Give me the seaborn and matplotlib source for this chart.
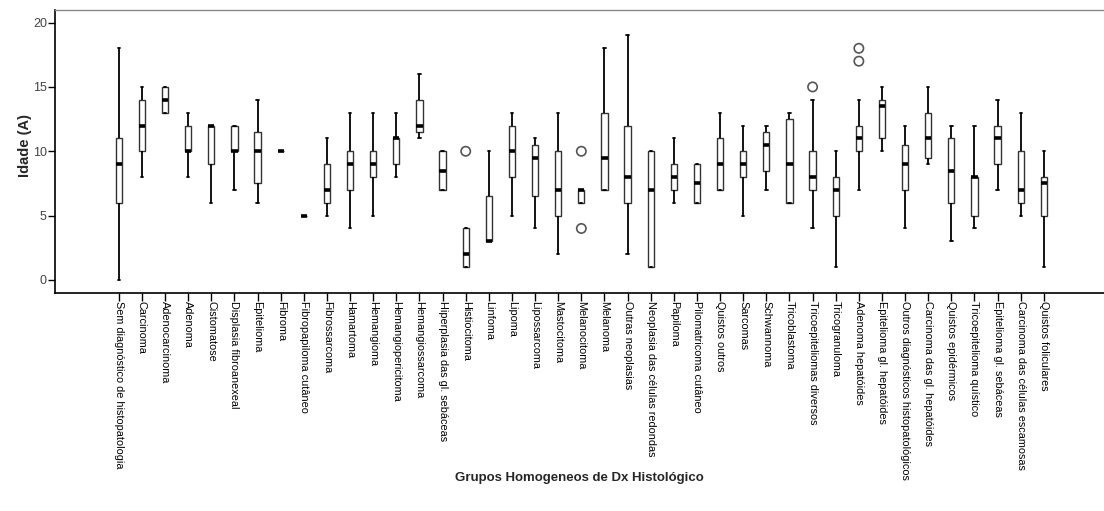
import matplotlib
matplotlib.use("Agg")
import matplotlib.pyplot as plt
import numpy as np
import pandas as pd
import seaborn as sns

# ---------------- data ----------------
grupos = [
    "Sem diagnóstico de histopatologia", "Carcinoma", "Adenocarcinoma", "Adenoma",
    "Cistomatose", "Displasia fibroanexeal", "Epitelioma", "Fibroma",
    "Fibropapiloma cutâneo", "Fibrossarcoma", "Hamartoma", "Hemangioma",
    "Hemangiopericitoma", "Hemangiossarcoma", "Hiperplasia das gl. sebáceas",
    "Histiocitoma", "Linfoma", "Lipoma", "Lipossarcoma", "Mastocitoma",
    "Melanocitoma", "Melanoma", "Outras neoplasias", "Neoplasia das células redondas",
    "Papiloma", "Pilomatricoma cutâneo", "Quistos outros", "Sarcomas", "Schwannoma",
    "Tricoblastoma", "Tricoepiteliomas diversos", "Tricogranuloma",
    "Adenoma hepatóides", "Epitelioma gl. hepatóides",
    "Outros diagnósticos histopatológicos", "Carcinoma das gl. hepatóides",
    "Quistos epidérmicos", "Tricoepitelioma quístico", "Epitelioma gl. sebáceas",
    "Carcinoma das células escamosas", "Quistos foliculares",
]

# whisker low, Q1, median, Q3, whisker high
w_lo = [0, 8, 13, 8, 6, 7, 6, 10, 5, 5, 4, 5, 8, 11, 7, 1, 3, 5, 4, 2, 6,
        7, 2, 1, 6, 6, 7, 5, 7, 6, 4, 1, 7, 10, 4, 9, 3, 4, 7, 5, 1]
q1 = [6, 10, 13, 10, 9, 10, 7.5, 10, 5, 6, 7, 8, 9, 11.5, 7, 1, 3, 8, 6.5, 5, 6,
      7, 6, 1, 7, 6, 7, 8, 8.5, 6, 7, 5, 10, 11, 7, 9.5, 6, 5, 9, 6, 5]
mediana = [9, 12, 14, 10, 12, 10, 10, 10, 5, 7, 9, 9, 11, 12, 8.5, 2, 3, 10, 9.5, 7, 7,
           9.5, 8, 7, 8, 7.5, 9, 9, 10.5, 9, 8, 7, 11, 13.5, 9, 11, 8.5, 8, 11, 7, 7.5]
q3 = [11, 14, 15, 12, 12, 12, 11.5, 10, 5, 9, 10, 10, 11, 14, 10, 4, 6.5, 12, 10.5, 10, 7,
      13, 12, 10, 9, 9, 11, 10, 11.5, 12.5, 10, 8, 12, 14, 10.5, 13, 11, 8, 12, 10, 8]
w_hi = [18, 15, 15, 13, 12, 12, 14, 10, 5, 11, 13, 13, 13, 16, 10, 4, 10, 13, 11, 13, 7,
        18, 19, 10, 11, 9, 13, 12, 12, 13, 14, 10, 14, 15, 12, 15, 12, 12, 14, 13, 10]

# outliers (group, age)
out_grupo = ["Histiocitoma", "Melanocitoma", "Melanocitoma",
             "Tricoepiteliomas diversos", "Adenoma hepatóides", "Adenoma hepatóides"]
out_idade = [10, 10, 4, 15, 17, 18]

# long table: five values per group give exactly these quartiles
rows = []
for g, a, b, c, d, e in zip(grupos, w_lo, q1, mediana, q3, w_hi):
    for v in (a, b, c, d, e):
        rows.append((g, v))
df = pd.DataFrame(rows, columns=["Grupo", "Idade"])
df_out = pd.DataFrame({"Grupo": out_grupo, "Idade": out_idade})

# ---------------- plot ----------------
sns.set_style("ticks")
plt.rcParams["font.family"] = ["Liberation Sans", "DejaVu Sans"]

fig = plt.figure(figsize=(11.04, 5.11), dpi=100)
ax = fig.add_axes([0.050, 0.427, 0.950, 0.554])

sns.boxplot(data=df, x="Grupo", y="Idade", order=grupos, whis=np.inf,
            width=0.27, color="white", linewidth=1.0, linecolor="#333333",
            medianprops={"color": "black", "linewidth": 2.6},
            whiskerprops={"color": "black", "linewidth": 1.3},
            capprops={"color": "black", "linewidth": 1.3},
            capwidths=0.1, ax=ax)
sns.scatterplot(data=df_out, x="Grupo", y="Idade", marker="o", s=45,
                facecolor="none", edgecolor="#555555", linewidth=1.2, ax=ax)

ax.set_xlim(-2.75, 42.6)
ax.set_ylim(-1, 21)
ax.set_yticks([0, 5, 10, 15, 20])
ax.tick_params(axis="y", direction="out", length=5, width=1, colors="black",
               labelcolor="#444444", labelsize=9, pad=1, left=True)
ax.tick_params(axis="x", direction="out", length=6, width=1, colors="black",
               labelsize=7.8, pad=0, bottom=True)
plt.setp(ax.get_xticklabels(), rotation=270, ha="center", va="top")

for s in ["left", "bottom"]:
    ax.spines[s].set_color("black")
    ax.spines[s].set_linewidth(1.2)
ax.spines["top"].set_visible(True)
ax.spines["top"].set_color("#888888")
ax.spines["top"].set_linewidth(1.0)
ax.spines["right"].set_visible(False)

ax.set_ylabel("Idade (A)", fontsize=10.5, fontweight="bold")
ax.yaxis.set_label_coords(-0.0225, 0.52)
ax.set_xlabel("")
fig.text(0.525, 0.065, "Grupos Homogeneos de Dx Histológico", ha="center",
         va="center", fontsize=9.5, fontweight="bold")

fig.savefig("out.png", dpi=100)
